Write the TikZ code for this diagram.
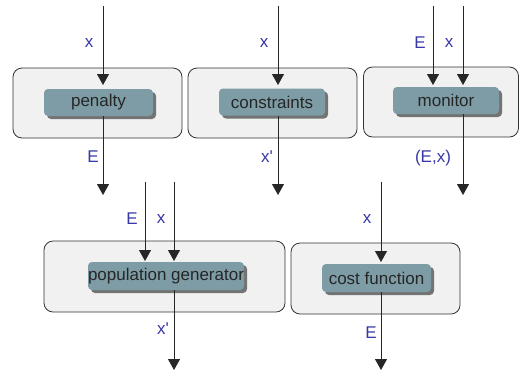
\documentclass[tikz,border=0pt]{standalone}
\usepackage{fontspec}
\setmainfont{Liberation Sans}
\usepackage{tikz}
\usetikzlibrary{shapes}
\usetikzlibrary{arrows.meta}
\definecolor{outerfill}{rgb}{0.945,0.945,0.945}
\definecolor{innerfill}{rgb}{0.49,0.61,0.65}
\definecolor{shadowcol}{rgb}{0.45,0.45,0.45}
\definecolor{labelcol}{rgb}{0.22,0.22,0.65}
\tikzset{
  unit/.style={draw=black!80,fill=outerfill,rounded corners=9bp,line width=0.8bp,inner sep=0pt},
  proc/.style={fill=innerfill,rounded corners=4bp,inner sep=0pt,font=\fontsize{17bp}{20bp}\selectfont,
    text=black!85},
  procshadow/.style={fill=shadowcol,rounded corners=4bp,inner sep=0pt},
  sig/.style={text=labelcol,font=\fontsize{17bp}{20bp}\selectfont,inner sep=0pt},
  flow/.style={draw=black!85,line width=0.9bp,-{Triangle[width=12bp,length=11bp]}},
}

\begin{document}
\begin{tikzpicture}[x=1bp,y=-1bp,line join=bevel]
%%
\useasboundingbox (0,0) rectangle (520,372);
%% outer units
  \node (u1) at (97.5,103) [unit,minimum width=169bp,minimum height=70bp] {};
  \node (u2) at (272.5,103) [unit,minimum width=169bp,minimum height=70bp] {};
  \node (u3) at (441,102) [unit,minimum width=155bp,minimum height=70bp] {};
  \node (u4) at (164.5,276.5) [unit,minimum width=241bp,minimum height=71bp] {};
  \node (u5) at (375.5,278.5) [unit,minimum width=169bp,minimum height=71bp] {};
%% shadows
  \node at (101.5,105.5) [procshadow,minimum width=109bp,minimum height=27bp] {};
  \node at (275,105) [procshadow,minimum width=106bp,minimum height=27bp] {};
  \node at (449,103.5) [procshadow,minimum width=106bp,minimum height=27bp] {};
  \node at (169,279) [procshadow,minimum width=156bp,minimum height=28bp] {};
  \node at (379.5,281) [procshadow,minimum width=109bp,minimum height=28bp] {};
%% processes
  \node (penalty) at (98.5,102.5) [proc,minimum width=109bp,minimum height=27bp] {penalty};
  \node (constr) at (272,102) [proc,minimum width=106bp,minimum height=27bp] {constraints};
  \node (monitor) at (446,100.5) [proc,minimum width=106bp,minimum height=27bp] {monitor};
  \node (popgen) at (166,276) [proc,minimum width=156bp,minimum height=28bp] {population generator};
  \node (cost) at (376.5,278) [proc,minimum width=109bp,minimum height=28bp] {cost function};
%% free ends
  \coordinate (in1) at (103,6);
  \coordinate (tip1) at (103,85);
  \coordinate (out1) at (103,195);
  \coordinate (in2) at (278,6);
  \coordinate (tip2) at (278,85);
  \coordinate (out2) at (278,195);
  \coordinate (in3a) at (433,6);
  \coordinate (tip3a) at (433,85);
  \coordinate (in3b) at (463,6);
  \coordinate (tip3b) at (463,85);
  \coordinate (out3) at (463,195);
  \coordinate (in4a) at (145,182);
  \coordinate (tip4a) at (145,261);
  \coordinate (in4b) at (174,182);
  \coordinate (tip4b) at (174,261);
  \coordinate (out4) at (174,370);
  \coordinate (in5) at (381,182);
  \coordinate (tip5) at (381,262);
  \coordinate (out5) at (381,370);
%% signals
  \draw [flow] (in1) -- (tip1);
  \draw [flow] (penalty.south -| in1) -- (out1);
  \draw [flow] (in2) -- (tip2);
  \draw [flow] (constr.south -| in2) -- (out2);
  \draw [flow] (in3a) -- (tip3a);
  \draw [flow] (in3b) -- (tip3b);
  \draw [flow] (monitor.south -| in3b) -- (out3);
  \draw [flow] (in4a) -- (tip4a);
  \draw [flow] (in4b) -- (tip4b);
  \draw [flow] (popgen.south -| in4b) -- (out4);
  \draw [flow] (in5) -- (tip5);
  \draw [flow] (cost.south -| in5) -- (out5);
%% labels
  \node (l1a) at (89,43) [sig] {x};
  \node (l1b) at (93,157) [sig] {E};
  \node (l2a) at (264,43) [sig] {x};
  \node (l2b) at (267,157) [sig] {x\textquotesingle};
  \node (l3a) at (420,43) [sig] {E};
  \node (l3b) at (449,43) [sig] {x};
  \node (l3c) at (433,158) [sig] {(E,x)};
  \node (l4a) at (132,219) [sig] {E};
  \node (l4b) at (161,219) [sig] {x};
  \node (l4c) at (163,329) [sig] {x\textquotesingle};
  \node (l5a) at (367,219) [sig] {x};
  \node (l5b) at (371,333) [sig] {E};
%
\end{tikzpicture}
\end{document}
